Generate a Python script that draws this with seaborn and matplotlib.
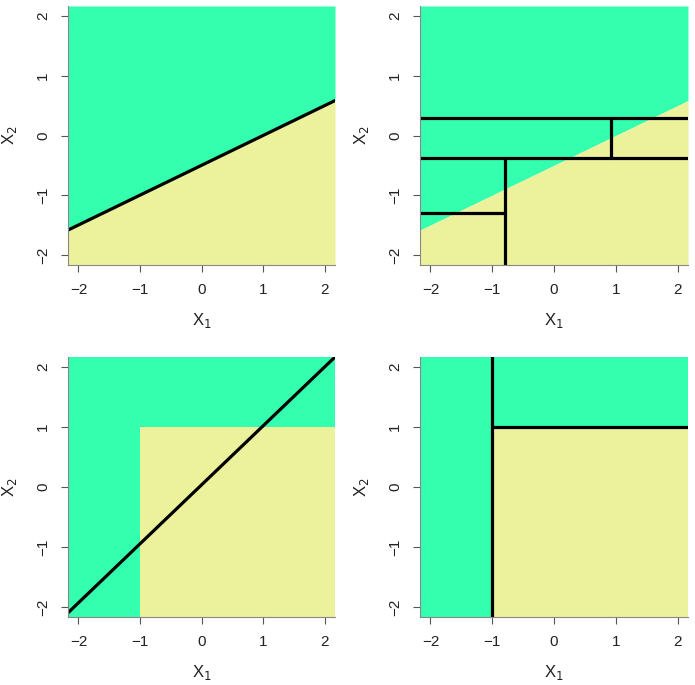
import numpy as np
import pandas as pd
import seaborn as sns
import matplotlib.pyplot as plt

sns.set_style("ticks")
plt.rcParams['font.family'] = ['Liberation Sans', 'DejaVu Sans']

# plot limits and colours
lim = [-2.17, 2.17]
ticks = [-2, -1, 0, 1, 2]
green = "#33FFAF"
yellow = "#ECF19B"

# linear boundary (top row): x2 = 0.5*x1 - 0.5
lin_x1 = [-2.17, 2.17]
lin_x2 = [-1.585, 0.585]

# tree splits (top right): value, start, end
h_splits = pd.DataFrame({"x2": [0.30, -0.38, -1.30],
                         "x1_from": [-2.17, -2.17, -2.17],
                         "x1_to": [2.17, 2.17, -0.80]})
v_splits = pd.DataFrame({"x1": [0.93, -0.80],
                         "x2_from": [-0.38, -2.17],
                         "x2_to": [0.30, -0.38]})

# diagonal fit (bottom left)
diag_x1 = [-2.17, 2.17]
diag_x2 = [-2.10, 2.17]

# true box boundary (bottom): yellow where x1 > -1 and x2 < 1
box_x1 = -1.0
box_x2 = 1.0

fig = plt.figure(figsize=(6.95, 6.85), dpi=100)
W, H = 695, 685
def mkax(l, t, r, b):
    return fig.add_axes([l / W, 1 - b / H, (r - l) / W, (b - t) / H])

ax_tl = mkax(68, 6, 335, 265)
ax_tr = mkax(420, 6, 688, 265)
ax_bl = mkax(68, 357, 335, 617)
ax_br = mkax(420, 357, 688, 617)

def linear_bg(ax):
    xs = np.array(lin_x1)
    ys = np.array(lin_x2)
    ax.fill_between(xs, ys, lim[1], color=green, lw=0)
    ax.fill_between(xs, lim[0], ys, color=yellow, lw=0)

def box_bg(ax):
    ax.fill_between(lim, lim[0], lim[1], color=green, lw=0)
    ax.fill_between([box_x1, lim[1]], lim[0], box_x2, color=yellow, lw=0)

linear_bg(ax_tl)
sns.lineplot(x=lin_x1, y=lin_x2, ax=ax_tl, color="black", lw=2.3)

linear_bg(ax_tr)
for _, r in h_splits.iterrows():
    sns.lineplot(x=[r.x1_from, r.x1_to], y=[r.x2, r.x2], ax=ax_tr,
                 color="black", lw=2.3)
for _, r in v_splits.iterrows():
    sns.lineplot(x=[r.x1, r.x1], y=[r.x2_from, r.x2_to], ax=ax_tr,
                 color="black", lw=2.3, orient="y")

box_bg(ax_bl)
sns.lineplot(x=diag_x1, y=diag_x2, ax=ax_bl, color="black", lw=2.3)

box_bg(ax_br)
sns.lineplot(x=[box_x1, box_x1], y=lim, ax=ax_br, color="black", lw=2.3,
             orient="y")
sns.lineplot(x=[box_x1, lim[1]], y=[box_x2, box_x2], ax=ax_br,
             color="black", lw=2.3)

for ax in [ax_tl, ax_tr, ax_bl, ax_br]:
    ax.set_xlim(lim)
    ax.set_ylim(lim)
    ax.set_xticks(ticks)
    ax.set_yticks(ticks)
    ax.set_xticklabels(["\u22122", "\u22121", "0", "1", "2"])
    ax.set_yticklabels(["\u22122", "\u22121", "0", "1", "2"],
                       rotation=90, va="center")
    ax.tick_params(length=5, width=0.8, color="#555555", labelsize=11,
                   labelcolor="#222222", pad=8)
    for s in ["top", "right"]:
        ax.spines[s].set_visible(False)
    for s in ["left", "bottom"]:
        ax.spines[s].set_color("#888888")
        ax.spines[s].set_linewidth(0.8)
    ax.set_xlabel("X$_1$", fontsize=12, color="#222222", labelpad=10)
    ax.set_ylabel("X$_2$", fontsize=12, color="#222222", labelpad=12)

fig.savefig("out.png", dpi=100)
